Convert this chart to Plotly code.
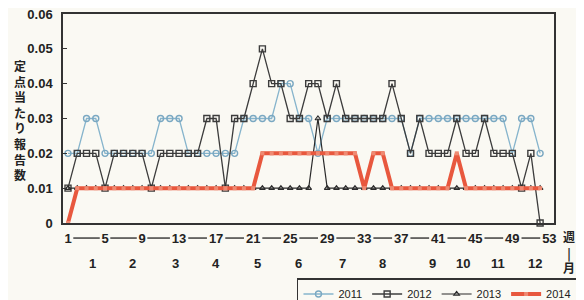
import plotly.graph_objects as go

weeks = list(range(1, 53))

y2011 = [0.02, 0.02, 0.03, 0.03, 0.02, 0.02, 0.02, 0.02, 0.02, 0.02,
         0.03, 0.03, 0.03, 0.02, 0.02, 0.02, 0.02, 0.02, 0.02, 0.03,
         0.03, 0.03, 0.03, 0.04, 0.04, 0.03, 0.03, 0.02, 0.03, 0.03,
         0.03, 0.03, 0.03, 0.03, 0.03, 0.03, 0.03, 0.02, 0.03, 0.03,
         0.03, 0.03, 0.03, 0.03, 0.03, 0.03, 0.03, 0.03, 0.02, 0.03,
         0.03, 0.02]

y2012 = [0.01, 0.02, 0.02, 0.02, 0.01, 0.02, 0.02, 0.02, 0.02, 0.01,
         0.02, 0.02, 0.02, 0.02, 0.02, 0.03, 0.03, 0.01, 0.03, 0.03,
         0.04, 0.05, 0.04, 0.04, 0.03, 0.03, 0.04, 0.04, 0.03, 0.04,
         0.03, 0.03, 0.03, 0.03, 0.03, 0.04, 0.03, 0.02, 0.03, 0.02,
         0.02, 0.02, 0.03, 0.02, 0.02, 0.03, 0.02, 0.02, 0.02, 0.01,
         0.02, 0.00]

y2013 = [0.01, 0.01, 0.01, 0.01, 0.01, 0.01, 0.01, 0.01, 0.01, 0.01,
         0.01, 0.01, 0.01, 0.01, 0.01, 0.01, 0.01, 0.01, 0.01, 0.01,
         0.01, 0.01, 0.01, 0.01, 0.01, 0.01, 0.01, 0.03, 0.01, 0.01,
         0.01, 0.01, 0.01, 0.01, 0.01, 0.01, 0.01, 0.01, 0.01, 0.01,
         0.01, 0.01, 0.01, 0.01, 0.01, 0.01, 0.01, 0.01, 0.01, 0.01,
         0.01, 0.01]

y2014 = [0.00, 0.01, 0.01, 0.01, 0.01, 0.01, 0.01, 0.01, 0.01, 0.01,
         0.01, 0.01, 0.01, 0.01, 0.01, 0.01, 0.01, 0.01, 0.01, 0.01,
         0.01, 0.02, 0.02, 0.02, 0.02, 0.02, 0.02, 0.02, 0.02, 0.02,
         0.02, 0.02, 0.01, 0.02, 0.02, 0.01, 0.01, 0.01, 0.01, 0.01,
         0.01, 0.01, 0.02, 0.01, 0.01, 0.01, 0.01, 0.01, 0.01, 0.01,
         0.01, 0.01]

week_ticks = [1, 5, 9, 13, 17, 21, 25, 29, 33, 37, 41, 45, 49, 53]
month_labels = ["1", "2", "3", "4", "5", "6", "7", "8", "9", "10", "11", "12"]
month_pos = [3.7, 8.0, 12.6, 17.0, 21.5, 25.9, 30.6, 35.0, 40.4, 43.7, 47.4, 51.4]
y_ticks = [0, 0.01, 0.02, 0.03, 0.04, 0.05, 0.06]
y_ticktext = ["0", "0.01", "0.02", "0.03", "0.04", "0.05", "0.06"]

BG = "#faf9f3"
FONT = "Liberation Sans, Arial, sans-serif"
JFONT = "Noto Sans CJK JP, sans-serif"

fig = go.Figure()
fig.add_trace(go.Scatter(
    x=weeks, y=y2011, name="2011", mode="lines+markers",
    line=dict(color="#86b4cc", width=1.3),
    marker=dict(symbol="circle-open", size=6, color="#7aa8c2", line=dict(width=1.4)),
    cliponaxis=False))
fig.add_trace(go.Scatter(
    x=weeks, y=y2012, name="2012", mode="lines+markers",
    line=dict(color="#3c3c3c", width=1.3),
    marker=dict(symbol="square-open", size=6, color="#3c3c3c", line=dict(width=1.4)),
    cliponaxis=False))
fig.add_trace(go.Scatter(
    x=weeks, y=y2013, name="2013", mode="lines+markers",
    line=dict(color="#2a2a2a", width=1.2),
    marker=dict(symbol="triangle-up-open", size=5, color="#2a2a2a", line=dict(width=1.1)),
    cliponaxis=False))
fig.add_trace(go.Scatter(
    x=weeks, y=y2014, name="2014", mode="lines+markers",
    line=dict(color="#e8583e", width=4),
    marker=dict(symbol="square", size=4, color="#ef8a72"),
    cliponaxis=False))

# dashes joining the week labels
for a, b in zip(week_ticks[:-1], week_ticks[1:]):
    x0 = a + 0.42 * len(str(a)) + 0.15
    x1 = b - 0.42 * len(str(b)) - 0.15
    fig.add_shape(type="line", xref="x", yref="paper", x0=x0, x1=x1,
                  y0=-0.072, y1=-0.072, line=dict(color="#222", width=1.3))

for m, p in zip(month_labels, month_pos):
    fig.add_annotation(x=p, y=-0.196, xref="x", yref="paper", text=m,
                       xanchor="center", yanchor="middle",
                       showarrow=False, font=dict(family=FONT, size=13, color="#222", weight="bold"))

fig.add_annotation(x=-0.0876, y=0.493, xref="paper", yref="paper",
                   xanchor="center", yanchor="middle",
                   text="<br>".join(list("定点当たり報告数")), showarrow=False,
                   font=dict(family=JFONT, size=12, color="#222", weight="bold"))
fig.add_annotation(x=1.03, y=-0.139, xref="paper", yref="paper",
                   xanchor="center", yanchor="middle", align="center",
                   text="週<br>|<br>月", showarrow=False,
                   font=dict(family=JFONT, size=12, color="#222", weight="bold"))

fig.update_xaxes(range=[0.46, 53.5], tickvals=week_ticks, ticktext=[str(t) for t in week_ticks],
                 showgrid=False, zeroline=False, showline=True, mirror=True,
                 linecolor="#333", linewidth=1.5, ticks="", ticklabelstandoff=3,
                 ticklabeloverflow="allow",
                 tickfont=dict(family=FONT, size=13, color="#222", weight="bold"))
fig.update_yaxes(range=[0, 0.06], tickvals=y_ticks, ticktext=y_ticktext,
                 showgrid=False, zeroline=False, showline=True, mirror=True,
                 linecolor="#333", linewidth=1.5, ticks="inside", ticklen=4,
                 tickcolor="#333", ticklabelstandoff=6, ticklabeloverflow="allow",
                 tickfont=dict(family=FONT, size=13, color="#222", weight="bold"))

fig.update_layout(
    width=576, height=292,
    margin=dict(l=55, r=30, t=6, b=77, autoexpand=False),
    paper_bgcolor=BG, plot_bgcolor=BG,
    showlegend=True,
    legend=dict(orientation="h", xref="container", yref="container",
                x=0.5017, y=0.0753, xanchor="left", yanchor="top",
                bgcolor=BG, bordercolor="#333", borderwidth=1.5,
                font=dict(family=FONT, size=11, color="#222"),
                itemwidth=30, tracegroupgap=0),
)

fig.write_html("out.html")
